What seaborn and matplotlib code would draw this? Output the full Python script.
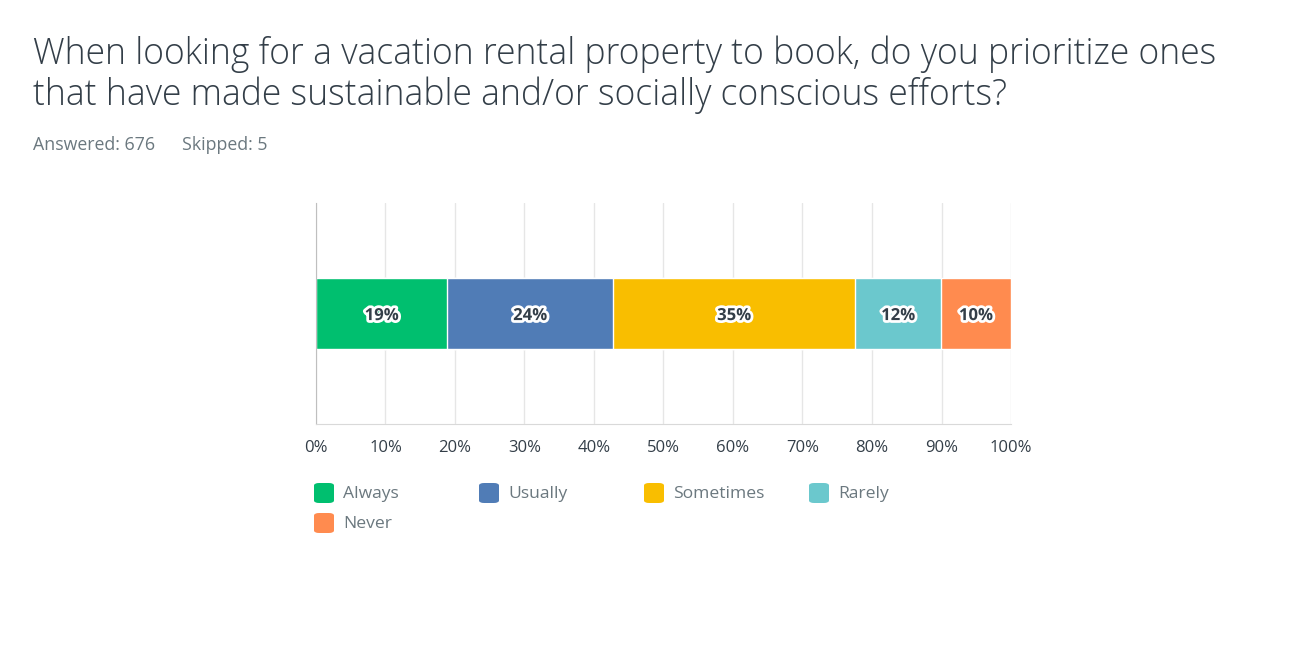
import matplotlib
matplotlib.use("Agg")
import matplotlib.pyplot as plt
import matplotlib.patheffects as pe
from matplotlib.patches import FancyBboxPatch
import seaborn as sns
import numpy as np

# data
answers = ["Always", "Usually", "Sometimes", "Rarely", "Never"]
shares = [18.9, 23.8, 34.9, 12.3, 10.1]
labels = ["19%", "24%", "35%", "12%", "10%"]
colors = ["#00BF6F", "#507CB6", "#F9BE00", "#6BC8CD", "#FF8B4F"]

sns.set_style("white")
plt.rcParams["font.family"] = ["Open Sans", "DejaVu Sans"]

text_col = "#333E48"
grey_col = "#6B787F"

fig = plt.figure(figsize=(12.96, 6.48), dpi=100)
ax = fig.add_axes([0.2438, 0.346, 0.5363, 0.341])

# stacked bar: draw cumulative totals from the back forward
cum = np.cumsum(shares)
for i in reversed(range(len(answers))):
    sns.barplot(x=[cum[i]], y=["q"], color=colors[i], orient="h",
                width=0.32, ax=ax, saturation=1, zorder=2)

starts = cum - np.array(shares)
for s, w, lab in zip(starts, shares, labels):
    ax.text(s + w / 2, 0.008, lab, ha="center", va="center", fontsize=12,
            fontweight="bold", color=text_col, zorder=5,
            path_effects=[pe.withStroke(linewidth=4, foreground="white")])

ax.set_xlim(0, 100)
ax.set_ylim(0.5, -0.5)
ax.set_xticks(np.arange(0, 101, 10))
ax.set_xticklabels([f"{t}%" for t in range(0, 101, 10)])
ax.set_yticks([])
ax.set_ylabel("")
ax.set_xlabel("")
ax.tick_params(axis="x", length=0, pad=12, labelsize=12, labelcolor=text_col)
ax.grid(axis="x", color="#E6E6E6", linewidth=1, zorder=0)
ax.set_axisbelow(True)
for side in ["top", "right"]:
    ax.spines[side].set_visible(False)
ax.spines["left"].set_color("#BFBFBF")
ax.spines["bottom"].set_color("#D9D9D9")

# title and counts
fig.text(0.0255, 0.945, "When looking for a vacation rental property to book, do you prioritize ones\n"
         "that have made sustainable and/or socially conscious efforts?",
         ha="left", va="top", fontsize=25.6, fontweight="light", color=text_col,
         linespacing=1.12)
fig.text(0.0255, 0.777, "Answered: 676", ha="left", va="center", fontsize=12.8, color=grey_col)
fig.text(0.1404, 0.777, "Skipped: 5", ha="left", va="center", fontsize=12.8, color=grey_col)

# legend drawn by hand, four per row
W, H = fig.get_size_inches() * fig.dpi
for i, (name, c) in enumerate(zip(answers, colors)):
    col, row = i % 4, i // 4
    x0 = 314 + col * 165
    yc = 493 + row * 30
    box = FancyBboxPatch((x0 / W, 1 - (yc + 10) / H), 20 / W, 20 / H,
                         boxstyle="round,pad=0,rounding_size=0.004",
                         transform=fig.transFigure, facecolor=c,
                         edgecolor="none")
    fig.patches.append(box)
    fig.text((x0 + 29) / W, 1 - (yc + 1) / H, name, ha="left", va="center",
             fontsize=12.6, color=grey_col)

fig.savefig("out.png", dpi=100)
